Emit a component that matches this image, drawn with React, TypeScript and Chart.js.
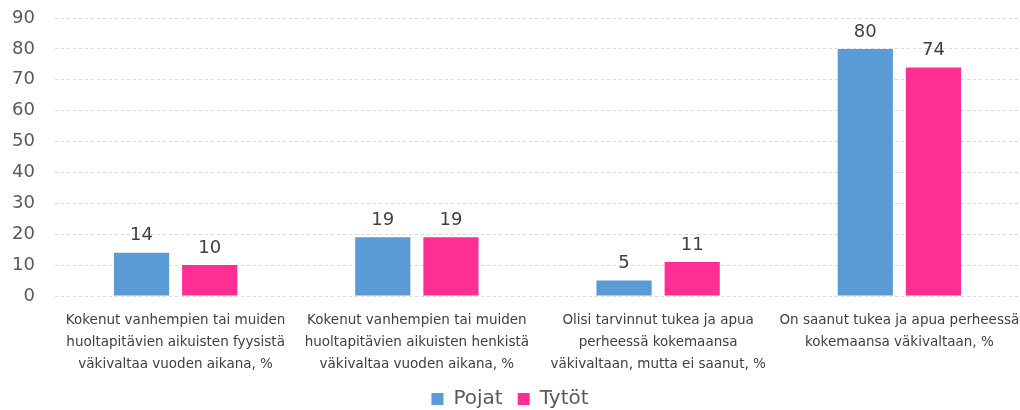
import React, { useEffect, useRef } from "react";
import { Chart, registerables } from "chart.js";

Chart.register(...registerables);

const categories: string[][] = [
  ["Kokenut vanhempien tai muiden", "huoltapitävien aikuisten fyysistä", "väkivaltaa vuoden aikana, %"],
  ["Kokenut vanhempien tai muiden", "huoltapitävien aikuisten henkistä", "väkivaltaa vuoden aikana, %"],
  ["Olisi tarvinnut tukea ja apua", "perheessä kokemaansa", "väkivaltaan, mutta ei saanut, %"],
  ["On saanut tukea ja apua perheessä", "kokemaansa väkivaltaan, %"],
];
const pojat = [14, 19, 5, 80];
const tytot = [10, 19, 11, 74];
const seriesNames = ["Pojat", "Tytöt"];

const FONT = "'DejaVu Sans', sans-serif";

const valueLabels = {
  id: "valueLabels",
  afterDatasetsDraw(chart: any) {
    const ctx = chart.ctx;
    ctx.save();
    ctx.font = `18px ${FONT}`;
    ctx.fillStyle = "#404040";
    ctx.textAlign = "center";
    ctx.textBaseline = "bottom";
    chart.data.datasets.forEach((ds: any, i: number) => {
      const meta = chart.getDatasetMeta(i);
      meta.data.forEach((el: any, j: number) => {
        ctx.fillText(String(ds.data[j]), el.x, el.y - 8);
      });
    });
    ctx.restore();
  },
};

export default function App() {
  const ref = useRef<HTMLCanvasElement>(null);
  useEffect(() => {
    if (!ref.current) return;
    const chart = new Chart(ref.current, {
      type: "bar",
      data: {
        labels: categories,
        datasets: [
          { label: seriesNames[0], data: pojat, backgroundColor: "#5B9BD5", categoryPercentage: 0.565, barPercentage: 0.81 },
          { label: seriesNames[1], data: tytot, backgroundColor: "#FF2E93", categoryPercentage: 0.565, barPercentage: 0.81 },
        ],
      },
      options: {
        animation: false,
        responsive: false,
        maintainAspectRatio: false,
        layout: { padding: { top: 18, left: 0, right: 0, bottom: -9 } },
        plugins: {
          tooltip: { enabled: false },
          legend: {
            position: "bottom",
            labels: {
              boxWidth: 12,
              boxHeight: 12,
              color: "#595959",
              font: { family: FONT, size: 20 },
              padding: 15,
            },
          },
        },
        scales: {
          x: {
            grid: { display: false },
            border: { display: false },
            ticks: {
              color: "#404040",
              font: { family: FONT, size: 13.5, lineHeight: 1.63 },
              maxRotation: 0,
              minRotation: 0,
              autoSkip: false,
              padding: 5,
            },
            afterFit(scale: any) {
              scale.paddingLeft = 0;
              scale.paddingRight = 0;
              scale.height = 78;
            },
          },
          y: {
            min: 0,
            max: 90,
            grid: { color: "#d9d9d9", drawTicks: false },
            border: { display: false, dash: [3, 3] },
            ticks: {
              stepSize: 10,
              color: "#595959",
              font: { family: FONT, size: 18 },
              padding: 20,
            },
            afterFit(scale: any) {
              scale.width = 55;
              scale.paddingTop = 0;
              scale.paddingBottom = 0;
            },
          },
        },
      },
      plugins: [valueLabels],
    });
    return () => chart.destroy();
  }, []);
  return (
    <div style={{ position: "absolute", left: 0, top: 0, width: 1020, height: 410 }}>
      <canvas ref={ref} width={1020} height={410} />
    </div>
  );
}
